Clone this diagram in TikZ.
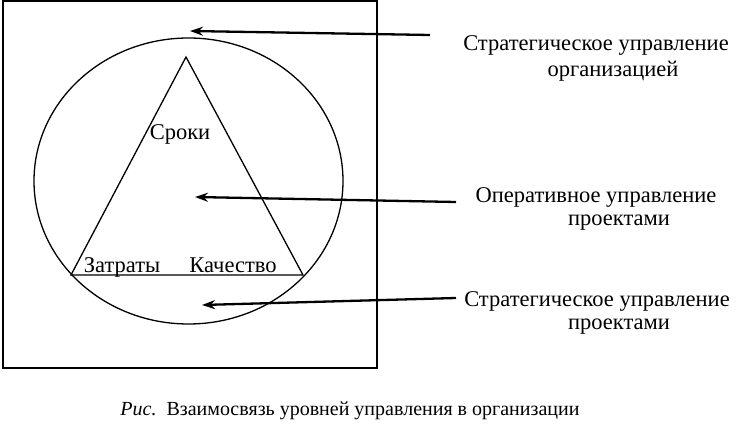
\documentclass[tikz,border=0pt]{standalone}
\usepackage{fontspec}
\setmainfont{Liberation Serif}
\usetikzlibrary{arrows.meta,shapes.geometric}
\begin{document}
\begin{tikzpicture}[x=1pt,y=-1pt,
  outl/.style={draw=black,line width=1.3pt},
  lbl/.style={inner sep=0pt,font=\fontsize{22.5}{26}\selectfont},
  inlbl/.style={inner sep=0pt,font=\fontsize{22.5}{26}\selectfont,anchor=base},
  arr/.style={line width=2.3pt,-{Stealth[length=13pt,width=9pt]}}]
\useasboundingbox (0,0) rectangle (739,427);
\draw[outl] (3,1) rectangle (377,368);
\node[outl,ellipse,minimum width=309pt,minimum height=286pt,inner sep=0pt] (ell) at (188.5,181) {};
\coordinate (apex) at (186,57);
\coordinate (bl) at (71,275);
\coordinate (br) at (303,275);
\draw[outl,line join=miter] (apex) -- (bl) -- (br) -- cycle;
\node[inlbl] (sroki) at (180,140) {Сроки};
\node[inlbl] (zatr) at (122,273) {Затраты};
\node[inlbl] (kach) at (233,273) {Качество};
\node[lbl] (t1a) at (596,45) {Стратегическое управление};
\node[lbl] (t1b) at (613,71) {организацией};
\node[lbl] (t2a) at (596,197) {Оперативное управление};
\node[lbl] (t2b) at (619,223) {проектами};
\node[lbl] (t3a) at (597,301) {Стратегическое управление};
\node[lbl] (t3b) at (619,327) {проектами};
\coordinate (a1s) at (430,35);
\coordinate (a1e) at (190,31);
\coordinate (a2s) at (456,202);
\coordinate (a2e) at (195,197);
\coordinate (a3s) at (456,298);
\coordinate (a3e) at (202,305);
\draw[arr] (a1s) -- (a1e);
\draw[arr] (a2s) -- (a2e);
\draw[arr] (a3s) -- (a3e);
\node[inner sep=0pt,font=\fontsize{20}{24}\selectfont] (cap) at (350,411) {\textit{Рис.}\ \ Взаимосвязь уровней управления в организации};
\end{tikzpicture}
\end{document}
